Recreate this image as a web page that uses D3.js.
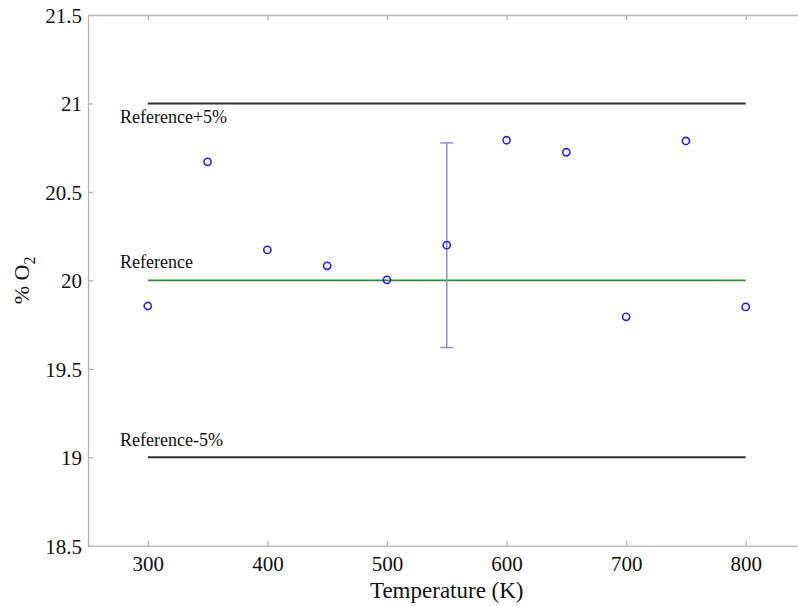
<!DOCTYPE html>
<html>
<head>
<meta charset="utf-8">
<script src="https://cdn.jsdelivr.net/npm/d3@7"></script>
<style>
  body { margin: 0; background: #fff; }
  svg { display: block; font-family: "Liberation Serif", "Times New Roman", serif; }
</style>
</head>
<body>
<svg></svg>
<script>
// measured O2 percentage at each temperature
var temperatures = [300, 350, 400, 450, 500, 550, 600, 650, 700, 750, 800];
var o2Values = [19.855, 20.67, 20.172, 20.082, 20.003, 20.199, 20.792, 20.724, 19.794, 20.788, 19.85];

// one error bar at 550 K
var errTemp = [550];
var errLow = [19.62];
var errHigh = [20.777];

// reference levels
var refNames = ["Reference+5%", "Reference", "Reference-5%"];
var refValues = [21, 20, 19];
var refSpan = [300, 800];

var xTicks = [300, 400, 500, 600, 700, 800];
var yTicks = [18.5, 19, 19.5, 20, 20.5, 21, 21.5];

window.onload = function() {
  var svg = d3.select("svg")
    .attr("width", 798)
    .attr("height", 606);

  var left = 88, right = 805.5, top = 15, bottom = 545.7;

  var x = d3.scaleLinear().domain([250, 850]).range([left, right]);
  var y = d3.scaleLinear().domain([18.5, 21.5]).range([bottom, top]);

  var axisColor = "#b4b4b4";

  // bottom axis
  var gx = svg.append("g")
    .attr("transform", "translate(0," + bottom + ")")
    .call(d3.axisBottom(x).tickValues(xTicks).tickSizeInner(-5).tickSizeOuter(0).tickPadding(10).tickFormat(d3.format("d")));
  // top axis (mirror ticks only)
  var gt = svg.append("g")
    .attr("transform", "translate(0," + top + ")")
    .call(d3.axisTop(x).tickValues(xTicks).tickSizeInner(-5).tickSizeOuter(0).tickFormat(""));
  // left axis
  var gy = svg.append("g")
    .attr("transform", "translate(" + left + ",0)")
    .call(d3.axisLeft(y).tickValues(yTicks).tickSizeInner(-5).tickSizeOuter(0).tickPadding(6).tickFormat(d3.format("")));

  [gx, gt, gy].forEach(function(g) {
    g.attr("font-family", null).attr("font-size", null);
    g.selectAll("path").attr("stroke", axisColor).attr("stroke-width", 1.3);
    g.selectAll("line").attr("stroke", axisColor).attr("stroke-width", 1.3);
    g.selectAll("text")
      .attr("fill", "#111")
      .style("font-size", "21px");
  });
  gx.selectAll("text").attr("dy", "0.71em");
  gy.selectAll("text").attr("dy", "0.35em");

  // reference lines
  var refColors = ["#333", "#2f8f2f", "#333"];
  var refWidths = [2, 1.7, 2];
  svg.selectAll(".ref")
    .data(refValues).enter()
    .append("line")
    .attr("class", "ref")
    .attr("x1", x(refSpan[0]))
    .attr("x2", x(refSpan[1]))
    .attr("y1", function(d) { return y(d); })
    .attr("y2", function(d) { return y(d); })
    .attr("stroke", function(d, i) { return refColors[i]; })
    .attr("stroke-width", function(d, i) { return refWidths[i]; });

  // reference labels
  var labelOffsets = [20, -12, -11];
  svg.selectAll(".refLabel")
    .data(refNames).enter()
    .append("text")
    .attr("class", "refLabel")
    .attr("x", 120)
    .attr("y", function(d, i) { return y(refValues[i]) + labelOffsets[i]; })
    .style("font-size", "18px")
    .attr("fill", "#111")
    .text(function(d) { return d; });

  // error bar
  var errColor = "#8c8cf5";
  errTemp.forEach(function(t, i) {
    svg.append("line")
      .attr("x1", x(t)).attr("x2", x(t))
      .attr("y1", y(errLow[i])).attr("y2", y(errHigh[i]))
      .attr("stroke", errColor).attr("stroke-width", 1.5);
    [errLow[i], errHigh[i]].forEach(function(v) {
      svg.append("line")
        .attr("x1", x(t) - 6.5).attr("x2", x(t) + 6.5)
        .attr("y1", y(v)).attr("y2", y(v))
        .attr("stroke", errColor).attr("stroke-width", 1.5);
    });
  });

  // data points
  svg.selectAll(".pt")
    .data(o2Values).enter()
    .append("circle")
    .attr("class", "pt")
    .attr("cx", function(d, i) { return x(temperatures[i]); })
    .attr("cy", function(d) { return y(d); })
    .attr("r", 3.6)
    .attr("fill", "none")
    .attr("stroke", "#2020ff")
    .attr("stroke-width", 1.6);

  // axis titles
  svg.append("text")
    .attr("x", (left + right) / 2)
    .attr("y", 598)
    .attr("text-anchor", "middle")
    .style("font-size", "23px")
    .attr("fill", "#111")
    .text("Temperature (K)");

  var yl = svg.append("text")
    .attr("transform", "translate(29," + ((top + bottom) / 2) + ") rotate(-90)")
    .attr("text-anchor", "middle")
    .style("font-size", "22px")
    .attr("fill", "#111");
  yl.append("tspan").text("% O");
  yl.append("tspan").attr("dy", 6).style("font-size", "16px").text("2");
};
</script>
</body>
</html>
